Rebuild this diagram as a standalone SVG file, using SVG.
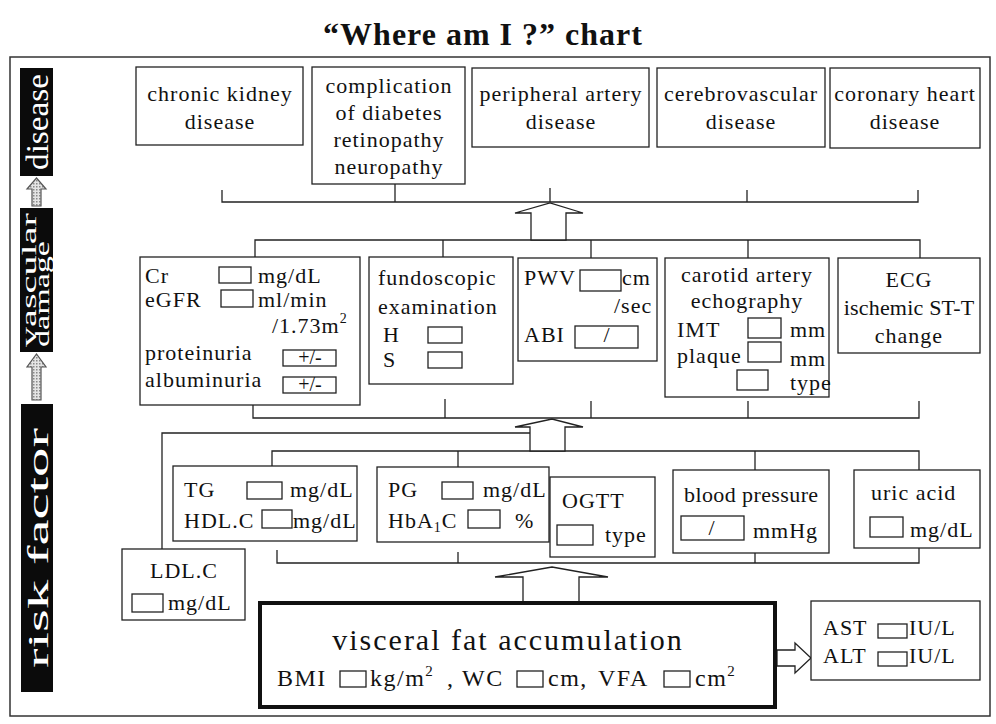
<svg xmlns="http://www.w3.org/2000/svg" width="996" height="724" viewBox="0 0 996 724">
<defs>
<style>
.box{fill:#fff;stroke:#222;stroke-width:1.3}
.vbox{fill:#fff;stroke:#111;stroke-width:4}
.in{fill:none;stroke:#222;stroke-width:1.3}
.ln{fill:none;stroke:#222;stroke-width:1.3}
.arr{fill:#fff;stroke:#222;stroke-width:1.3}
.harr{fill:url(#dots);stroke:#555;stroke-width:1.2}
.t{font-family:"Liberation Serif","Times New Roman",serif;font-size:22px;fill:#111;letter-spacing:1px}
.s{font-size:20px;letter-spacing:0}
.c{text-anchor:middle}
.bar{fill:#0b0b0b}
.bt{font-family:"Liberation Serif","Times New Roman",serif;fill:#fff}
.title{font-family:"Liberation Serif","Times New Roman",serif;font-size:32px;font-weight:bold;fill:#111;letter-spacing:1px}
</style>
<pattern id="dots" width="3" height="3" patternUnits="userSpaceOnUse">
<rect width="3" height="3" fill="#e4e4e4"/>
<rect width="1.5" height="1.5" fill="#8a8a8a"/>
</pattern>
</defs>
<rect width="996" height="724" fill="#fff"/>
<text class="title c" x="483" y="45">“Where am I ?” chart</text>
<rect x="10" y="57" width="980" height="659" fill="none" stroke="#333" stroke-width="1.5"/>

<g id="level-bars">
<rect class="bar" x="20" y="68" width="33" height="108"/>
<text class="bt" font-size="32" text-anchor="middle" textLength="96" lengthAdjust="spacingAndGlyphs" transform="translate(48,122) rotate(-90)">disease</text>
<polygon class="harr" points="32,206 32,189 27,189 36.5,178 46,189 41,189 41,206"/>
<rect class="bar" x="20" y="208" width="33" height="144"/>
<text class="bt" font-size="21" textLength="134" lengthAdjust="spacingAndGlyphs" transform="translate(35.5,347) rotate(-90)">vascular</text>
<text class="bt" font-size="20" textLength="106" lengthAdjust="spacingAndGlyphs" transform="translate(49,347) rotate(-90)">damage</text>
<polygon class="harr" points="32,400 32,367 27,367 36.5,354 46,367 41,367 41,400"/>
<rect class="bar" x="21" y="404" width="32" height="288"/>
<text class="bt" font-size="30" text-anchor="middle" textLength="240" lengthAdjust="spacingAndGlyphs" transform="translate(48,548) rotate(-90)">risk factor</text>
</g>

<g id="connectors">
<polyline class="ln" points="222,190 222,202 918,202 918,190"/>
<line class="ln" x1="395" y1="184" x2="395" y2="202"/>
<line class="ln" x1="550" y1="188" x2="550" y2="202"/>
<line class="ln" x1="747" y1="190" x2="747" y2="202"/>
<polyline class="ln" points="255,257 255,240 920,240 920,258"/>
<line class="ln" x1="443" y1="240" x2="443" y2="257"/>
<line class="ln" x1="591" y1="240" x2="591" y2="258"/>
<line class="ln" x1="748" y1="240" x2="748" y2="258"/>
<polygon class="arr" points="531,240 531,213 515,213 550,203 583,213 566,213 566,240"/>
<polyline class="ln" points="253,405 253,418 919,418 919,401"/>
<line class="ln" x1="445" y1="399" x2="445" y2="418"/>
<line class="ln" x1="591" y1="401" x2="591" y2="418"/>
<line class="ln" x1="748" y1="401" x2="748" y2="418"/>
<polyline class="ln" points="162,549 162,433 530,433"/>
<polyline class="ln" points="272,466 272,451 919,451 919,470"/>
<line class="ln" x1="458" y1="451" x2="458" y2="467"/>
<line class="ln" x1="755" y1="451" x2="755" y2="470"/>
<polygon class="arr" points="530,451 530,427 515,427 552,419 583,427 565,427 565,451"/>
<polyline class="ln" points="277,550 277,563 919,563 919,548"/>
<line class="ln" x1="458" y1="552" x2="458" y2="563"/>
<line class="ln" x1="755" y1="553" x2="755" y2="563"/>
<polygon class="arr" points="523,603 523,577 495,577 552,567 608,577 579,577 579,603"/>
<polygon class="arr" points="777,650 795,650 795,643 811,658 795,673 795,666 777,666"/>
</g>

<g id="ckd"><rect class="box" x="136" y="67" width="167" height="78"/>
<text class="t c" x="220" y="101">chronic kidney</text><text class="t c" x="220" y="129">disease</text></g>
<g id="diabetes"><rect class="box" x="312" y="67" width="153" height="117"/>
<text class="t c" x="389" y="93">complication</text><text class="t c" x="389" y="120">of diabetes</text>
<text class="t c" x="389" y="147">retinopathy</text><text class="t c" x="389" y="174">neuropathy</text></g>
<g id="pad"><rect class="box" x="472" y="68" width="177" height="79"/>
<text class="t c" x="561" y="101">peripheral artery</text><text class="t c" x="561" y="129">disease</text></g>
<g id="cvd"><rect class="box" x="657" y="68" width="168" height="79"/>
<text class="t c" x="741" y="101">cerebrovascular</text><text class="t c" x="741" y="129">disease</text></g>
<g id="chd"><rect class="box" x="830" y="68" width="150" height="80"/>
<text class="t c" x="905" y="101">coronary heart</text><text class="t c" x="905" y="129">disease</text></g>

<g id="kidney-tests"><rect class="box" x="140" y="257" width="220" height="148"/>
<text class="t" x="145" y="283">Cr</text><rect class="in" x="219" y="267" width="32" height="16"/><text class="t" x="258" y="283">mg/dL</text>
<text class="t" x="145" y="307">eGFR</text><rect class="in" x="221" y="290" width="32" height="17"/><text class="t" x="258" y="307">ml/min</text>
<text class="t" x="272" y="333">/1.73m<tspan font-size="14" dy="-10">2</tspan></text>
<text class="t" x="145" y="360">proteinuria</text><rect class="in" x="283" y="350" width="53" height="16"/><text class="t s c" x="310" y="364">+/-</text>
<text class="t" x="145" y="387">albuminuria</text><rect class="in" x="283" y="377" width="53" height="16"/><text class="t s c" x="310" y="391">+/-</text></g>
<g id="fundoscopic"><rect class="box" x="369" y="257" width="144" height="127"/>
<text class="t" x="378" y="285">fundoscopic</text><text class="t" x="378" y="314">examination</text>
<text class="t" x="383" y="342">H</text><rect class="in" x="428" y="327" width="34" height="16"/>
<text class="t" x="383" y="367">S</text><rect class="in" x="428" y="352" width="34" height="16"/></g>
<g id="pwv"><rect class="box" x="518" y="258" width="139" height="103"/>
<text class="t" x="524" y="285">PWV</text><rect class="in" x="580" y="270" width="41" height="21"/><text class="t" x="622" y="285">cm</text>
<text class="t" x="614" y="313">/sec</text>
<text class="t" x="524" y="342">ABI</text><rect class="in" x="575" y="326" width="63" height="22"/><text class="t c" x="607" y="342">/</text></g>
<g id="carotid"><rect class="box" x="665" y="258" width="164" height="139"/>
<text class="t c" x="747" y="282">carotid artery</text><text class="t c" x="747" y="308">echography</text>
<text class="t" x="677" y="337">IMT</text><rect class="in" x="748" y="318" width="33" height="20"/><text class="t" x="790" y="337">mm</text>
<text class="t" x="677" y="363">plaque</text><rect class="in" x="748" y="342" width="33" height="20"/><text class="t" x="790" y="366">mm</text>
<rect class="in" x="737" y="370" width="31" height="20"/><text class="t" x="790" y="390">type</text></g>
<g id="ecg"><rect class="box" x="838" y="258" width="142" height="95"/>
<text class="t c" x="909" y="287">ECG</text><text class="t c" x="909" y="315" style="letter-spacing:0.2px">ischemic ST-T</text><text class="t c" x="909" y="343">change</text></g>

<g id="lipids"><rect class="box" x="173" y="466" width="184" height="75"/>
<text class="t" x="184" y="497">TG</text><rect class="in" x="247" y="482" width="35" height="17"/><text class="t" x="290" y="497">mg/dL</text>
<text class="t" x="184" y="528">HDL.C</text><rect class="in" x="262" y="510" width="30" height="18"/><text class="t" x="293" y="528">mg/dL</text></g>
<g id="glucose"><rect class="box" x="377" y="467" width="172" height="75"/>
<text class="t" x="388" y="497">PG</text><rect class="in" x="442" y="482" width="31" height="17"/><text class="t" x="483" y="497">mg/dL</text>
<text class="t" x="388" y="528">HbA<tspan font-size="14" dy="4">1</tspan><tspan dy="-4">C</tspan></text><rect class="in" x="468" y="510" width="32" height="18"/><text class="t" x="515" y="528">%</text></g>
<g id="ogtt"><rect class="box" x="550" y="477" width="105" height="80"/>
<text class="t" x="562" y="508">OGTT</text><rect class="in" x="557" y="525" width="36" height="20"/><text class="t" x="605" y="542">type</text></g>
<g id="bp"><rect class="box" x="673" y="470" width="156" height="83"/>
<text class="t" x="684" y="502" style="letter-spacing:0.4px">blood pressure</text><rect class="in" x="681" y="516" width="63" height="24"/><text class="t c" x="712" y="535">/</text><text class="t" x="753" y="538">mmHg</text></g>
<g id="uric"><rect class="box" x="854" y="470" width="126" height="78"/>
<text class="t" x="871" y="500">uric acid</text><rect class="in" x="870" y="517" width="33" height="20"/><text class="t" x="910" y="537">mg/dL</text></g>
<g id="ldl"><rect class="box" x="122" y="549" width="123" height="71"/>
<text class="t c" x="184" y="578">LDL.C</text><rect class="in" x="132" y="594" width="31" height="18"/><text class="t" x="168" y="610">mg/dL</text></g>

<g id="visceral"><rect class="vbox" x="260" y="603" width="515" height="104"/>
<text class="t c" x="508" y="650" style="font-size:30px;letter-spacing:2px">visceral fat accumulation</text>
<g class="t" style="font-size:24px;letter-spacing:1.5px">
<text x="277" y="686">BMI</text><rect class="in" x="340" y="671" width="26" height="16"/>
<text x="370" y="686">kg/m<tspan font-size="15" dy="-10">2</tspan></text>
<text x="447" y="686">,</text><text x="462" y="686">WC</text><rect class="in" x="517" y="671" width="26" height="16"/>
<text x="548" y="686">cm,</text><text x="598" y="686">VFA</text><rect class="in" x="664" y="671" width="26" height="16"/>
<text x="695" y="686">cm<tspan font-size="15" dy="-10">2</tspan></text>
</g></g>
<g id="liver"><rect class="box" x="811" y="601" width="169" height="79"/>
<text class="t" x="823" y="635">AST</text><rect class="in" x="878" y="624" width="29" height="14"/><text class="t" x="909" y="635">IU/L</text>
<text class="t" x="823" y="663">ALT</text><rect class="in" x="878" y="652" width="29" height="14"/><text class="t" x="909" y="663">IU/L</text></g>
</svg>
